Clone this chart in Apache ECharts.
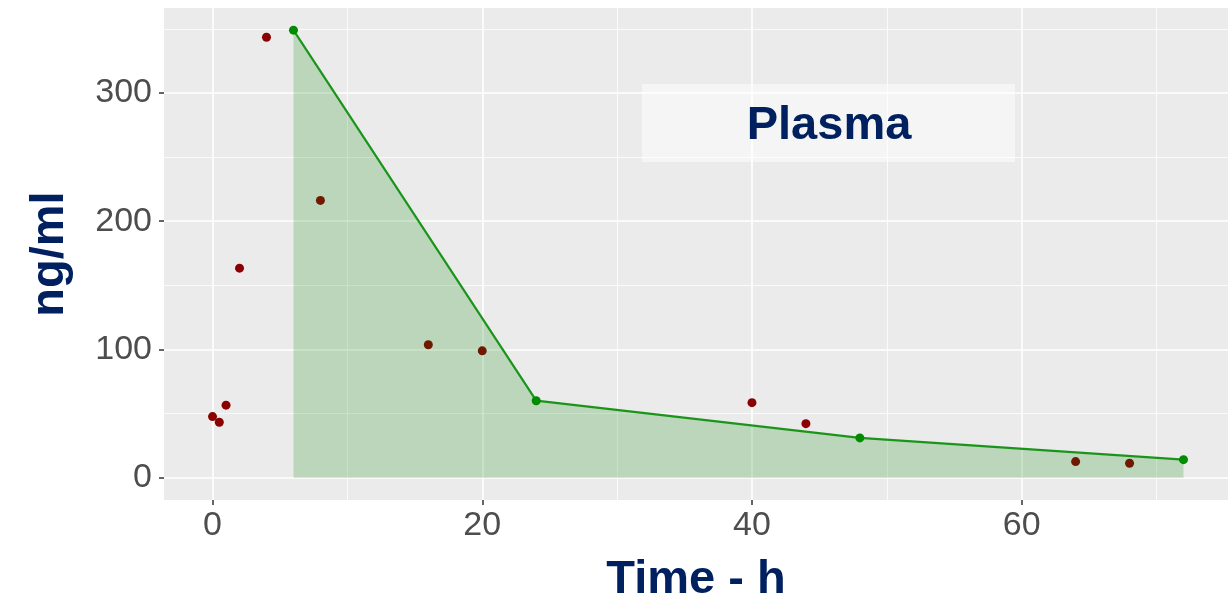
<!DOCTYPE html>
<html>
<head>
<meta charset="utf-8">
<script src="https://cdn.jsdelivr.net/npm/echarts@6/dist/echarts.min.js"></script>
<style>
  html, body { margin: 0; padding: 0; background: #fff; }
  #chart { width: 1228px; height: 604px; }
</style>
</head>
<body>
<div id="chart"></div>
<script>
// measured concentrations (red dots)
const obsTime = [0, 0.5, 1, 2, 4, 8, 16, 20, 40, 44, 64, 68]
const obsConc = [47.6, 43.2, 56.5, 163.4, 343.5, 216.2, 103.6, 98.9, 58.5, 42.1, 12.5, 11.2]
// sampled profile used for the shaded area (green)
const aucTime = [6, 24, 48, 72]
const aucConc = [349, 60, 31, 14]
// axis ticks
const xTicks = [0, 20, 40, 60]
const xMinor = [10, 30, 50, 70]
const yTicks = [0, 100, 200, 300]
const yMinor = [50, 150, 250, 350]

const navy = '#002060'
const font = 'Liberation Sans'

const chart = echarts.init(document.getElementById('chart'))

// panel grid lines (ggplot style), drawn under the data
const gridLines = [
  ...xMinor.map(v => ({ xAxis: v, lineStyle: { width: 0.8 } })),
  ...yMinor.map(v => ({ yAxis: v, lineStyle: { width: 0.8 } })),
  ...xTicks.map(v => ({ xAxis: v, lineStyle: { width: 1.6 } })),
  ...yTicks.map(v => ({ yAxis: v, lineStyle: { width: 1.6 } })),
]

// axis line kept (invisible, at the panel edge) so the ticks get drawn
const hiddenLine = { show: true, onZero: false, lineStyle: { color: 'rgba(0,0,0,0)', width: 0 } }

const option = {
  animation: false,
  grid: {
    left: 164,
    right: 0,
    top: 8,
    bottom: 104,
    outerBoundsMode: 'none',
    containLabel: false,
    show: true,
    backgroundColor: '#EBEBEB',
    borderWidth: 0,
  },
  xAxis: {
    type: 'value',
    min: -3.6,
    max: 75.3,
    name: 'Time - h',
    nameLocation: 'middle',
    nameGap: 57,
    nameTextStyle: { color: navy, fontSize: 47, fontWeight: 'bold', fontFamily: font },
    axisLine: hiddenLine,
    axisTick: { show: true, length: 5, customValues: xTicks, lineStyle: { color: '#333333', width: 1.5 } },
    axisLabel: { customValues: xTicks, margin: 9, fontSize: 34, color: '#4D4D4D', fontFamily: font },
    splitLine: { show: false },
  },
  yAxis: {
    type: 'value',
    min: -17.45,
    max: 366.3,
    name: 'ng/ml',
    nameLocation: 'middle',
    nameGap: 90,
    nameTextStyle: { color: navy, fontSize: 47, fontWeight: 'bold', fontFamily: font },
    axisLine: hiddenLine,
    axisTick: { show: true, length: 5, customValues: yTicks, lineStyle: { color: '#333333', width: 1.5 } },
    axisLabel: { customValues: yTicks, margin: 12, fontSize: 34, color: '#4D4D4D', fontFamily: font, padding: [11, 0, 0, 0] },
    splitLine: { show: false },
  },
  graphic: [
    {
      type: 'rect',
      shape: { x: 642, y: 84, width: 373, height: 78 },
      style: { fill: 'rgba(255,255,255,0.5)' },
      z: 10,
    },
    {
      type: 'text',
      style: {
        x: 829, y: 126,
        text: 'Plasma',
        textAlign: 'center',
        textVerticalAlign: 'middle',
        font: `bold 47px "${font}"`,
        fill: navy,
      },
      z: 11,
    },
  ],
  series: [
    {
      type: 'line',
      data: [],
      z: 1,
      markLine: {
        silent: true,
        z: 1,
        symbol: 'none',
        label: { show: false },
        lineStyle: { color: '#FFFFFF', type: 'solid' },
        data: gridLines,
      },
    },
    {
      name: 'observed',
      type: 'scatter',
      z: 2,
      symbolSize: 9,
      itemStyle: { color: '#8B0000', opacity: 1 },
      data: obsTime.map((t, i) => [t, obsConc[i]]),
    },
    {
      name: 'AUC',
      type: 'line',
      z: 3,
      symbol: 'circle',
      symbolSize: 9,
      showSymbol: true,
      itemStyle: { color: '#008B00' },
      lineStyle: { color: '#1A951A', width: 2.2 },
      areaStyle: { color: 'rgba(0,128,0,0.2)', opacity: 1, origin: 0 },
      data: aucTime.map((t, i) => [t, aucConc[i]]),
    },
  ],
}

chart.setOption(option)
</script>
</body>
</html>
